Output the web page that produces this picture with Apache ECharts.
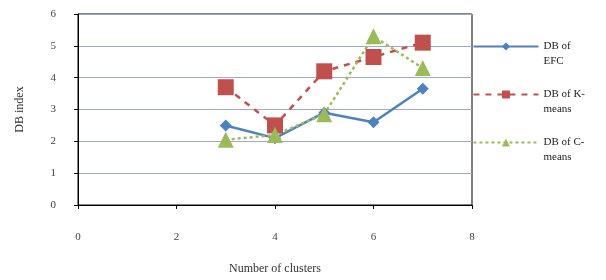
<!DOCTYPE html>
<html>
<head>
<meta charset="utf-8">
<script src="https://cdn.jsdelivr.net/npm/echarts@6/dist/echarts.min.js"></script>
<style>
  html, body { margin: 0; padding: 0; background: #fff; }
  #chart { width: 606px; height: 280px; }
</style>
</head>
<body>
<div id="chart"></div>
<script>
// 数据
var clusters = [3, 4, 5, 6, 7];
var dbEFC = [2.5, 2.1, 2.9, 2.6, 3.65];
var dbKmeans = [3.7, 2.5, 4.2, 4.65, 5.1];
var dbCmeans = [2.05, 2.2, 2.85, 5.3, 4.3];
var seriesNames = ['DB of\nEFC', 'DB of K-\nmeans', 'DB of C-\nmeans'];

var chart = echarts.init(document.getElementById('chart'));

var colors = {
    efc: '#4f81bd',
    km: '#c0504d',
    cm: '#9bbb59',
    grid: '#9ea8cc'
};

function pairs(vals) {
    return clusters.map(function (c, i) { return [c, vals[i]]; });
}

var option = {
    backgroundColor: '#fff',
    animation: false,
    textStyle: { fontFamily: 'Liberation Serif' },
    grid: {
        left: 78, right: 134, top: 14, bottom: 75,
        show: true,
        borderColor: '#000',
        borderWidth: 1
    },
    legend: {
        orient: 'vertical',
        right: 16,
        top: 19,
        itemWidth: 65,
        itemHeight: 10,
        itemGap: 3,
        data: seriesNames,
        // 前面加一个空行，让文字首行与图例线对齐
        formatter: function (name) { return ' \n' + name; },
        textStyle: { fontSize: 11, color: '#222', lineHeight: 15, fontFamily: 'Liberation Serif' }
    },
    xAxis: {
        type: 'value',
        min: 0, max: 8, interval: 2,
        name: 'Number of clusters',
        nameLocation: 'middle',
        nameGap: 58,
        nameTextStyle: { fontSize: 12, color: '#333', fontFamily: 'Liberation Serif' },
        axisLine: { lineStyle: { color: '#000' } },
        axisTick: { show: true, length: 4, lineStyle: { color: '#000' } },
        axisLabel: { color: '#444', fontSize: 11, margin: 27 },
        splitLine: { show: false }
    },
    yAxis: {
        type: 'value',
        min: 0, max: 6, interval: 1,
        name: 'DB index',
        nameLocation: 'middle',
        nameGap: 52,
        nameTextStyle: { fontSize: 12, color: '#333', fontFamily: 'Liberation Serif' },
        axisLine: { show: true, lineStyle: { color: '#000' } },
        axisTick: { show: true, length: 4, lineStyle: { color: '#000' } },
        axisLabel: { color: '#444', fontSize: 11, margin: 22 },
        splitLine: { show: true, lineStyle: { color: colors.grid, width: 1 } }
    },
    series: [
        {
            name: seriesNames[0],
            type: 'line',
            data: pairs(dbEFC),
            symbol: 'diamond',
            symbolSize: 12,
            itemStyle: { color: colors.efc },
            lineStyle: { color: colors.efc, width: 2.5 }
        },
        {
            name: seriesNames[1],
            type: 'line',
            data: pairs(dbKmeans),
            symbol: 'rect',
            symbolSize: 16,
            itemStyle: { color: colors.km },
            lineStyle: { color: colors.km, width: 2.5, type: [6, 6] }
        },
        {
            name: seriesNames[2],
            type: 'line',
            data: pairs(dbCmeans),
            symbol: 'triangle',
            symbolSize: 16,
            itemStyle: { color: colors.cm },
            lineStyle: { color: colors.cm, width: 2.5, type: [3, 3] }
        }
    ]
};

chart.setOption(option);
window.addEventListener('resize', function () { chart.resize(); });
</script>
</body>
</html>
